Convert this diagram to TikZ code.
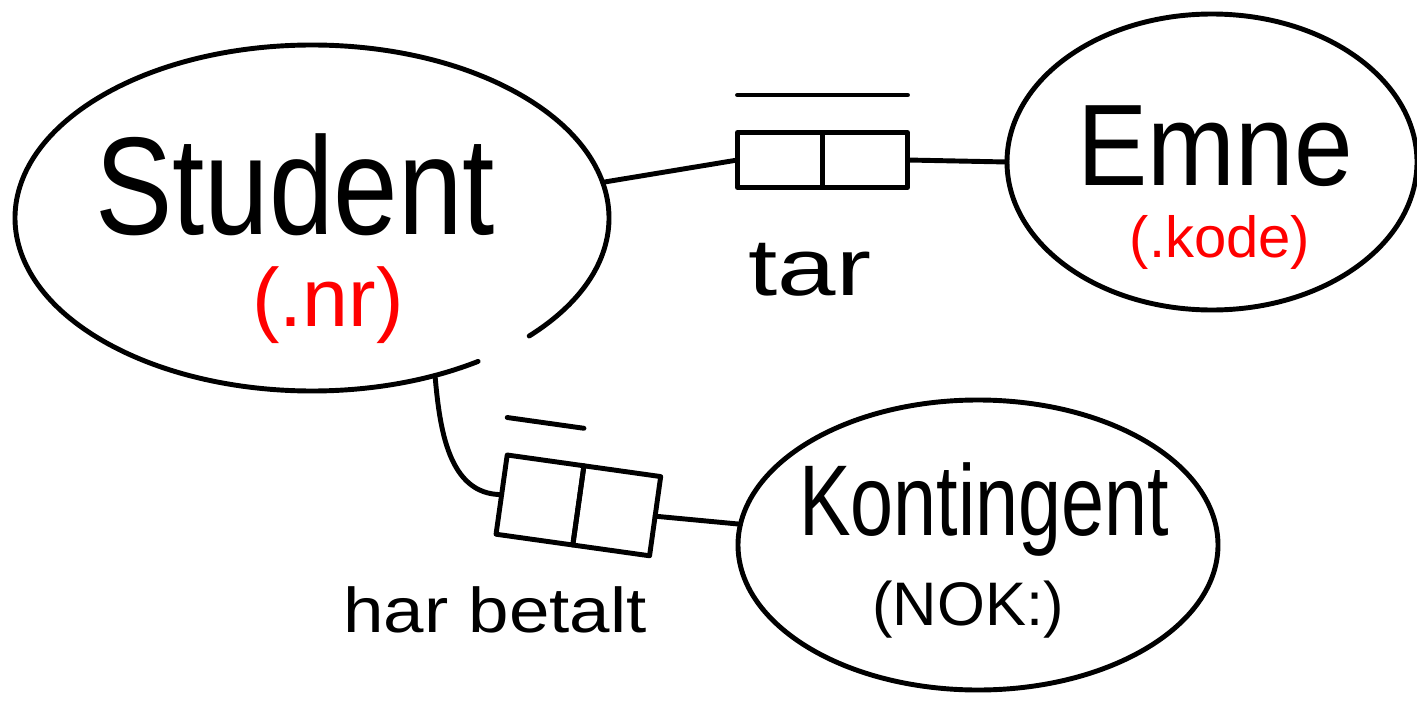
\documentclass[tikz,border=0pt]{standalone}
\usepackage{fontspec}
\setmainfont{Liberation Sans}
\usetikzlibrary{positioning,shapes.geometric}

\tikzset{
    entity/.style={ellipse, draw, line width=2.8pt, inner sep=0pt, outer sep=0pt},
    rolebox/.style={rectangle, draw, line width=2.8pt, inner sep=0pt, outer sep=0pt},
    link/.style={line width=2.8pt, line cap=round},
    lbl/.style={inner sep=0pt},
}

\begin{document}
\begin{tikzpicture}[line cap=round, line join=round]
    \useasboundingbox (0,0) rectangle (28.34,-14.26);

    % entity types
    \node[entity, draw=none, minimum width=11.88cm, minimum height=6.92cm] (student) at (6.24,-4.36) {};
    \node[entity, minimum width=8.2cm, minimum height=5.92cm] (emne) at (24.24,-3.24) {};
    \node[entity, minimum width=9.6cm, minimum height=5.8cm] (kontingent) at (19.56,-10.9) {};
    \draw[link] (student.center) ++(-43:5.94 and 3.46)
        arc[start angle=-43, end angle=304, x radius=5.94, y radius=3.46];

    \node[lbl, anchor=base, yscale=1.2, font=\fontsize{66}{70}\selectfont] (studentname) at (5.9,-4.68) {Student};
    \node[lbl, red, font=\fontsize{47}{52}\selectfont] (studentref) at (6.56,-6.1) {(.nr)};
    \node[lbl, anchor=base, yscale=1.1, font=\fontsize{60}{66}\selectfont] (emnename) at (24.3,-3.7) {Emne};
    \node[lbl, red, font=\fontsize{33}{40}\selectfont] (emneref) at (24.4,-4.85) {(.kode)};
    \node[lbl, anchor=base, yscale=1.3, font=\fontsize{44}{50}\selectfont] (kontname) at (19.68,-10.7) {Kontingent};
    \node[lbl, font=\fontsize{35}{40}\selectfont] (kontref) at (19.36,-12.2) {(NOK:)};

    % fact types
    \node[rolebox, minimum width=1.7cm, minimum height=1.1cm] (tarA) at (15.6,-3.2) {};
    \node[rolebox, minimum width=1.7cm, minimum height=1.1cm, right=0pt of tarA] (tarB) {};
    \node[rolebox, rotate=-8, minimum width=1.55cm, minimum height=1.6cm] (hbA) at (10.8,-10.0) {};
    \node[rolebox, rotate=-8, minimum width=1.55cm, minimum height=1.6cm, right=0pt of hbA] (hbB) {};

    \draw[link] ([yshift=7.5mm]tarA.north west) -- ([yshift=7.5mm]tarB.north east);
    \draw[link] ([yshift=7.5mm]hbA.north west) -- ([yshift=7.5mm]hbA.north east);

    \node[lbl, anchor=base, xscale=1.3, font=\fontsize{46}{50}\selectfont] (tarlbl) at (16.2,-5.9) {tar};
    \node[lbl, anchor=base, xscale=1.15, font=\fontsize{36}{40}\selectfont] (hblbl) at (9.9,-12.64) {har betalt};

    % connectors
    \draw[link] (student.7) -- (tarA.west);
    \draw[link] (tarB.east) -- (emne.west);
    \draw[link] (student.-52) to[out=-85, in=180] (hbA.west);
    \draw[link] (hbB.east) -- (kontingent.175);
\end{tikzpicture}
\end{document}
